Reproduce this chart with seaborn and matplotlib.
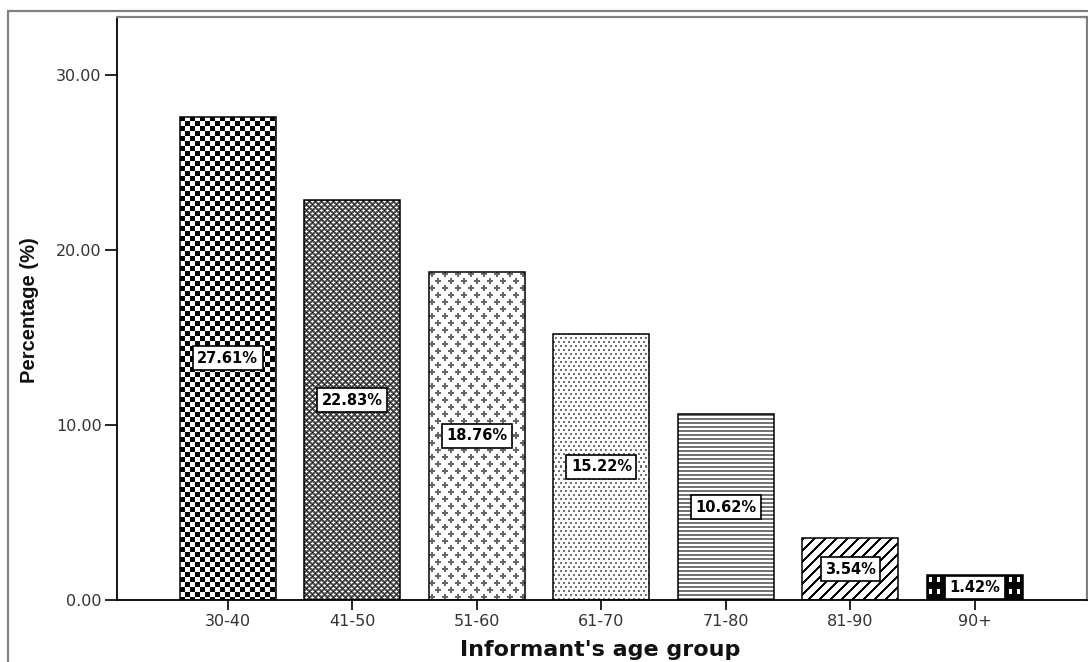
import numpy as np
import pandas as pd
import matplotlib
matplotlib.use("Agg")
import matplotlib.pyplot as plt
from matplotlib import font_manager
from matplotlib.patches import Rectangle
import seaborn as sns

# Share of informants per age group (%)
age_groups = ["30-40", "41-50", "51-60", "61-70", "71-80", "81-90", "90+"]
percentages = [27.61, 22.83, 18.76, 15.22, 10.62, 3.54, 1.42]
y_ticks = [0, 10, 20, 30]

df = pd.DataFrame({"group": age_groups, "pct": percentages})

sns.set_theme(style="white")
plt.rcParams["font.family"] = ["DejaVu Sans"]

installed = {f.name for f in font_manager.fontManager.ttflist}
if "Liberation Sans Narrow" in installed:
    ylabel_font, ylabel_size = "Liberation Sans Narrow", 17.5
else:
    ylabel_font, ylabel_size = "Liberation Sans", 14.5


# ---- monochrome fill textures (1 = white, 0 = black), one tile per bar ----
def tile_checker():
    i, j = np.mgrid[0:10, 0:10]
    return np.where(((i // 5) + (j // 5)) % 2 == 0, 0.0, 1.0)


def tile_lattice():
    t = np.full((6, 6), 0.32)
    t[1, 1:4] = 1.0
    t[0, 2] = 0.8
    t[2, 2] = 0.8
    t[4, 4:6] = 1.0
    t[4, 0] = 1.0
    t[3, 5] = 0.8
    t[5, 5] = 0.8
    t[1, 5] = 0.0
    t[4, 2] = 0.0
    return t


def tile_plus():
    t = np.ones((14, 13))
    g = 0.4
    # two staggered plus signs with 2-px arms
    t[2:4, 0:6] = g
    t[0:6, 2:4] = g
    t[9:11, 6:12] = g
    t[7:13, 8:10] = g
    return t


def tile_dots():
    t = np.ones((8, 5))
    t[0:2, 0:2] = 0.45
    t[4:6, 2:4] = 0.45
    return t


def tile_hlines():
    t = np.ones((4, 4))
    t[0:2, :] = 0.45
    return t


def tile_diag():
    i, j = np.mgrid[0:11, 0:11]
    return np.where((i + j) % 11 < 3, 0.0, 1.0)


def tile_film():
    t = np.zeros((12, 8))
    t[2:7, 2:5] = 1.0
    return t


tiles = [tile_checker(), tile_lattice(), tile_plus(), tile_dots(),
         tile_hlines(), tile_diag(), tile_film()]

W, H = 1088, 662
fig = plt.figure(figsize=(W / 100, H / 100), dpi=100)
ax = fig.add_axes([117 / W, 1 - 600 / H, (1087 - 117) / W, (600 - 17) / H])

sns.barplot(data=df, x="group", y="pct", ax=ax, color="white",
            width=0.77, edgecolor="black", linewidth=1.1, zorder=2)

xlim = (-0.89, 6.9)
ylim = (0, 33.3)
ax.set_xlim(*xlim)
ax.set_ylim(*ylim)

# Fill each bar with its texture, clipped to the bar outline
bars = list(ax.containers[0])
for bar, tile in zip(bars, tiles):
    bar.set_facecolor("none")
    x0, y0 = bar.get_x(), bar.get_y()
    x1, y1 = x0 + bar.get_width(), y0 + bar.get_height()
    (px0, py0), (px1, py1) = ax.transData.transform([(x0, y0), (x1, y1)])
    wpx = max(1, int(round(px1 - px0)))
    hpx = max(1, int(round(py1 - py0)))
    reps = (hpx // tile.shape[0] + 2, wpx // tile.shape[1] + 2)
    img = np.tile(tile, reps)[:hpx, :wpx]
    im = ax.imshow(img, cmap="gray", vmin=0, vmax=1, interpolation="nearest",
                   extent=(x0, x1, y0, y1), origin="upper", aspect="auto",
                   zorder=1.5)
    im.set_clip_path(bar)

ax.set_xlim(*xlim)
ax.set_ylim(*ylim)

# Value labels in boxed tags at mid-height
ax.bar_label(ax.containers[0], labels=[f"{v:.2f}%" for v in percentages],
             label_type="center", fontsize=10.5, fontweight="bold",
             color="black", zorder=4,
             bbox=dict(boxstyle="square,pad=0.3", facecolor="white",
                       edgecolor="black", linewidth=1.2))

ax.set_yticks(y_ticks)
ax.set_yticklabels([f"{v:.2f}" for v in y_ticks])
ax.tick_params(axis="y", which="major", direction="out", length=9, width=1.2,
               color="black", labelsize=11.5, labelcolor="#333333", pad=2, left=True)
ax.tick_params(axis="x", which="major", direction="out", length=7, width=1.2,
               color="black", labelsize=11.5, labelcolor="#333333", pad=3, bottom=True)

ax.set_xlabel("Informant's age group", fontsize=16, fontweight="bold",
              color="#111111")
ax.xaxis.set_label_coords((600 - 117) / 970, -(650 - 600) / 583)
ax.xaxis.label.set_va("center")
ax.set_ylabel("Percentage (%)", fontsize=ylabel_size, fontweight="bold",
              family=[ylabel_font, "DejaVu Sans"], color="#111111")
ax.yaxis.set_label_coords(-(117 - 30) / 970, (600 - 310) / 583)
ax.yaxis.label.set_va("center")

for side in ("left", "bottom"):
    ax.spines[side].set_color("black")
    ax.spines[side].set_linewidth(1.3)
for side in ("top", "right"):
    ax.spines[side].set_visible(True)
    ax.spines[side].set_color("#808080")
    ax.spines[side].set_linewidth(1.6)

ax.grid(False)
ax.set_facecolor("white")

# Outer frame of the chart panel
fig.add_artist(Rectangle((8 / W, -0.2), 2, 1.2 - 11 / H, transform=fig.transFigure,
                         fill=False, edgecolor="#808080", linewidth=1.6))

fig.savefig("out.png", dpi=100, facecolor="white")
